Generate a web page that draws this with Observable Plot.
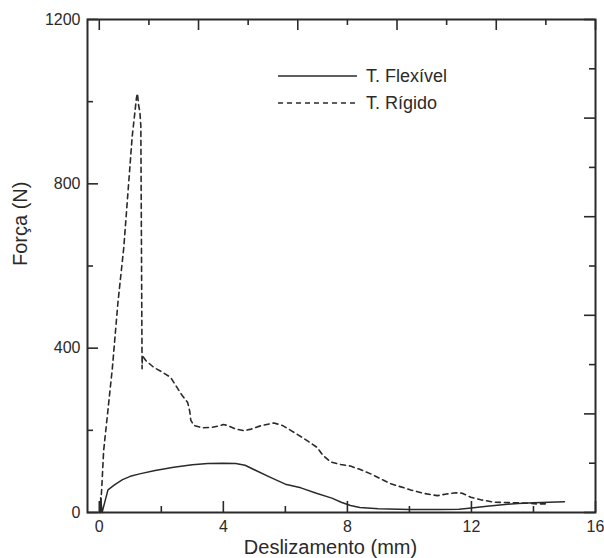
<!DOCTYPE html>
<html><head><meta charset="utf-8">
<script src="https://cdn.jsdelivr.net/npm/d3@7"></script>
<script src="https://cdn.jsdelivr.net/npm/@observablehq/plot@0.6"></script>
<style>html,body{margin:0;padding:0;background:#fff;} svg{display:block}</style>
</head><body><div id="chart"></div>
<script>
// ---- data ----
const seriesNames = ["T. Flexível", "T. Rígido"];
const xLabel = "Deslizamento (mm)";
const yLabel = "Força (N)";

const flexX = [0, 0.04, 0.045, 0.09, 0.28, 0.5, 0.75, 1.0, 1.3, 1.8, 2.4, 3.0, 3.5, 4.0, 4.4, 4.7, 5.0, 5.5, 6.0, 6.5, 7.0, 7.5, 7.8, 8.1, 8.4, 9.0, 10.0, 11.0, 11.6, 12.0, 12.5, 13.0, 13.5, 14.0, 14.5, 15.0];
const flexY = [0, 0, 36, 0, 55, 68, 80, 88, 94, 102, 110, 116, 119, 120, 119, 115, 104, 86, 69, 60, 47, 35, 25, 17, 12, 9, 7, 7, 8, 11, 15, 19, 22, 24, 25, 26];

const rigX = [0.03, 0.08, 0.14, 0.42, 0.6, 0.79, 1.06, 1.2, 1.23, 1.27, 1.31, 1.34, 1.38, 1.39, 1.5, 1.76, 2.0, 2.3, 2.5, 2.68, 2.85, 2.92, 2.95, 3.05, 3.32, 3.6, 3.81, 4.0, 4.13, 4.4, 4.67, 4.9, 5.2, 5.63, 5.9, 6.17, 6.6, 7.03, 7.2, 7.46, 7.78, 8.1, 8.4, 8.75, 9.4, 10.04, 10.5, 10.9, 11.2, 11.5, 11.7, 11.98, 12.3, 12.73, 13.2, 13.7, 14.1, 14.5];
const rigY = [0, 60, 150, 350, 510, 645, 914, 1010, 1020, 990, 975, 940, 350, 382, 370, 353, 343, 329, 305, 284, 268, 245, 225, 212, 206, 207, 210, 214, 212, 203, 199, 203, 211, 218, 212, 200, 180, 158, 140, 123, 117, 113, 105, 94, 70, 55, 46, 41, 45, 48, 47, 37, 31, 25, 24, 23, 21, 21];

const xMajor = [0, 4, 8, 12, 16];
const xMinor = [2, 6, 10, 14];
const yMajor = [0, 400, 800, 1200];
const yMinor = [200, 600, 1000];
const topMajor = [0, 3.2, 6.4, 9.6, 12.8, 16];
const topMinor = [1.6, 4.8, 8, 11.2, 14.4];
const rightMajor = [0, 240, 480, 720, 960, 1200];
const rightMinor = [120, 360, 600, 840, 1080];

// ---- build ----
const flex = flexX.map((x, i) => ({x, y: flexY[i]}));
const rig = rigX.map((x, i) => ({x, y: rigY[i]}));

const W = 604, H = 558;
const mL = 87, mR = 9, mT = 19, mB = 46;
const fw = W - mL - mR, fh = H - mT - mB;
const ink = "#2a2a2a";
const font = "'Liberation Sans', Arial, Helvetica, sans-serif";
const majLen = 11, minLen = 6, tw = 1.6;

const chart = Plot.plot({
  width: W, height: H,
  marginLeft: mL, marginRight: mR, marginTop: mT, marginBottom: mB,
  style: {fontFamily: font, fontSize: "16px", color: ink, background: "#fff", overflow: "visible"},
  x: {domain: [-0.38, 16]},
  y: {domain: [0, 1200]},
  marks: [
    Plot.line(flex, {x: "x", y: "y", stroke: ink, strokeWidth: 1.5}),
    Plot.line(rig, {x: "x", y: "y", stroke: ink, strokeWidth: 1.6, strokeDasharray: "5,4"}),
    // bottom ticks (inward)
    Plot.tickX(xMajor, {x: d => d, stroke: ink, strokeWidth: tw, insetTop: fh - majLen}),
    Plot.tickX(xMinor, {x: d => d, stroke: ink, strokeWidth: tw, insetTop: fh - minLen}),
    // top ticks
    Plot.tickX(topMajor, {x: d => d, stroke: ink, strokeWidth: tw, insetBottom: fh - majLen}),
    Plot.tickX(topMinor, {x: d => d, stroke: ink, strokeWidth: tw, insetBottom: fh - minLen}),
    // left ticks
    Plot.tickY(yMajor, {y: d => d, stroke: ink, strokeWidth: tw, insetRight: fw - majLen}),
    Plot.tickY(yMinor, {y: d => d, stroke: ink, strokeWidth: tw, insetRight: fw - minLen}),
    // right ticks
    Plot.tickY(rightMajor, {y: d => d, stroke: ink, strokeWidth: tw, insetLeft: fw - majLen}),
    Plot.tickY(rightMinor, {y: d => d, stroke: ink, strokeWidth: tw, insetLeft: fw - minLen}),
    // labels
    Plot.axisX({ticks: xMajor, tickSize: 0, tickPadding: 8, tickFormat: d => String(d), label: null, fontSize: 16, fill: ink}),
    Plot.axisY({ticks: yMajor, tickSize: 0, tickPadding: 7, tickFormat: d => String(d), label: null, fontSize: 16, fill: ink}),
    Plot.text([xLabel], {frameAnchor: "bottom", dx: -11, dy: 41, fontSize: 20, fill: ink}),
    Plot.text([yLabel], {frameAnchor: "left", dx: -67, rotate: -90, fontSize: 20, fill: ink}),
    Plot.frame({stroke: ink, strokeWidth: 2})
  ]
});

// legend
const svg = d3.select(chart);
const lg = svg.append("g").attr("font-family", font).attr("font-size", 18).attr("fill", ink).attr("text-anchor", "start");
const rows = [{y: 76, dash: null}, {y: 103, dash: "5,4"}];
rows.forEach((r, i) => {
  lg.append("line").attr("x1", 278).attr("x2", 357).attr("y1", r.y).attr("y2", r.y)
    .attr("stroke", ink).attr("stroke-width", 1.6).attr("stroke-dasharray", r.dash);
  lg.append("text").attr("x", 366).attr("y", r.y + 1).attr("dominant-baseline", "middle")
    .attr("text-anchor", "start").style("text-anchor", "start").text(seriesNames[i]);
});

document.getElementById("chart").appendChild(chart);
</script>
</body></html>
